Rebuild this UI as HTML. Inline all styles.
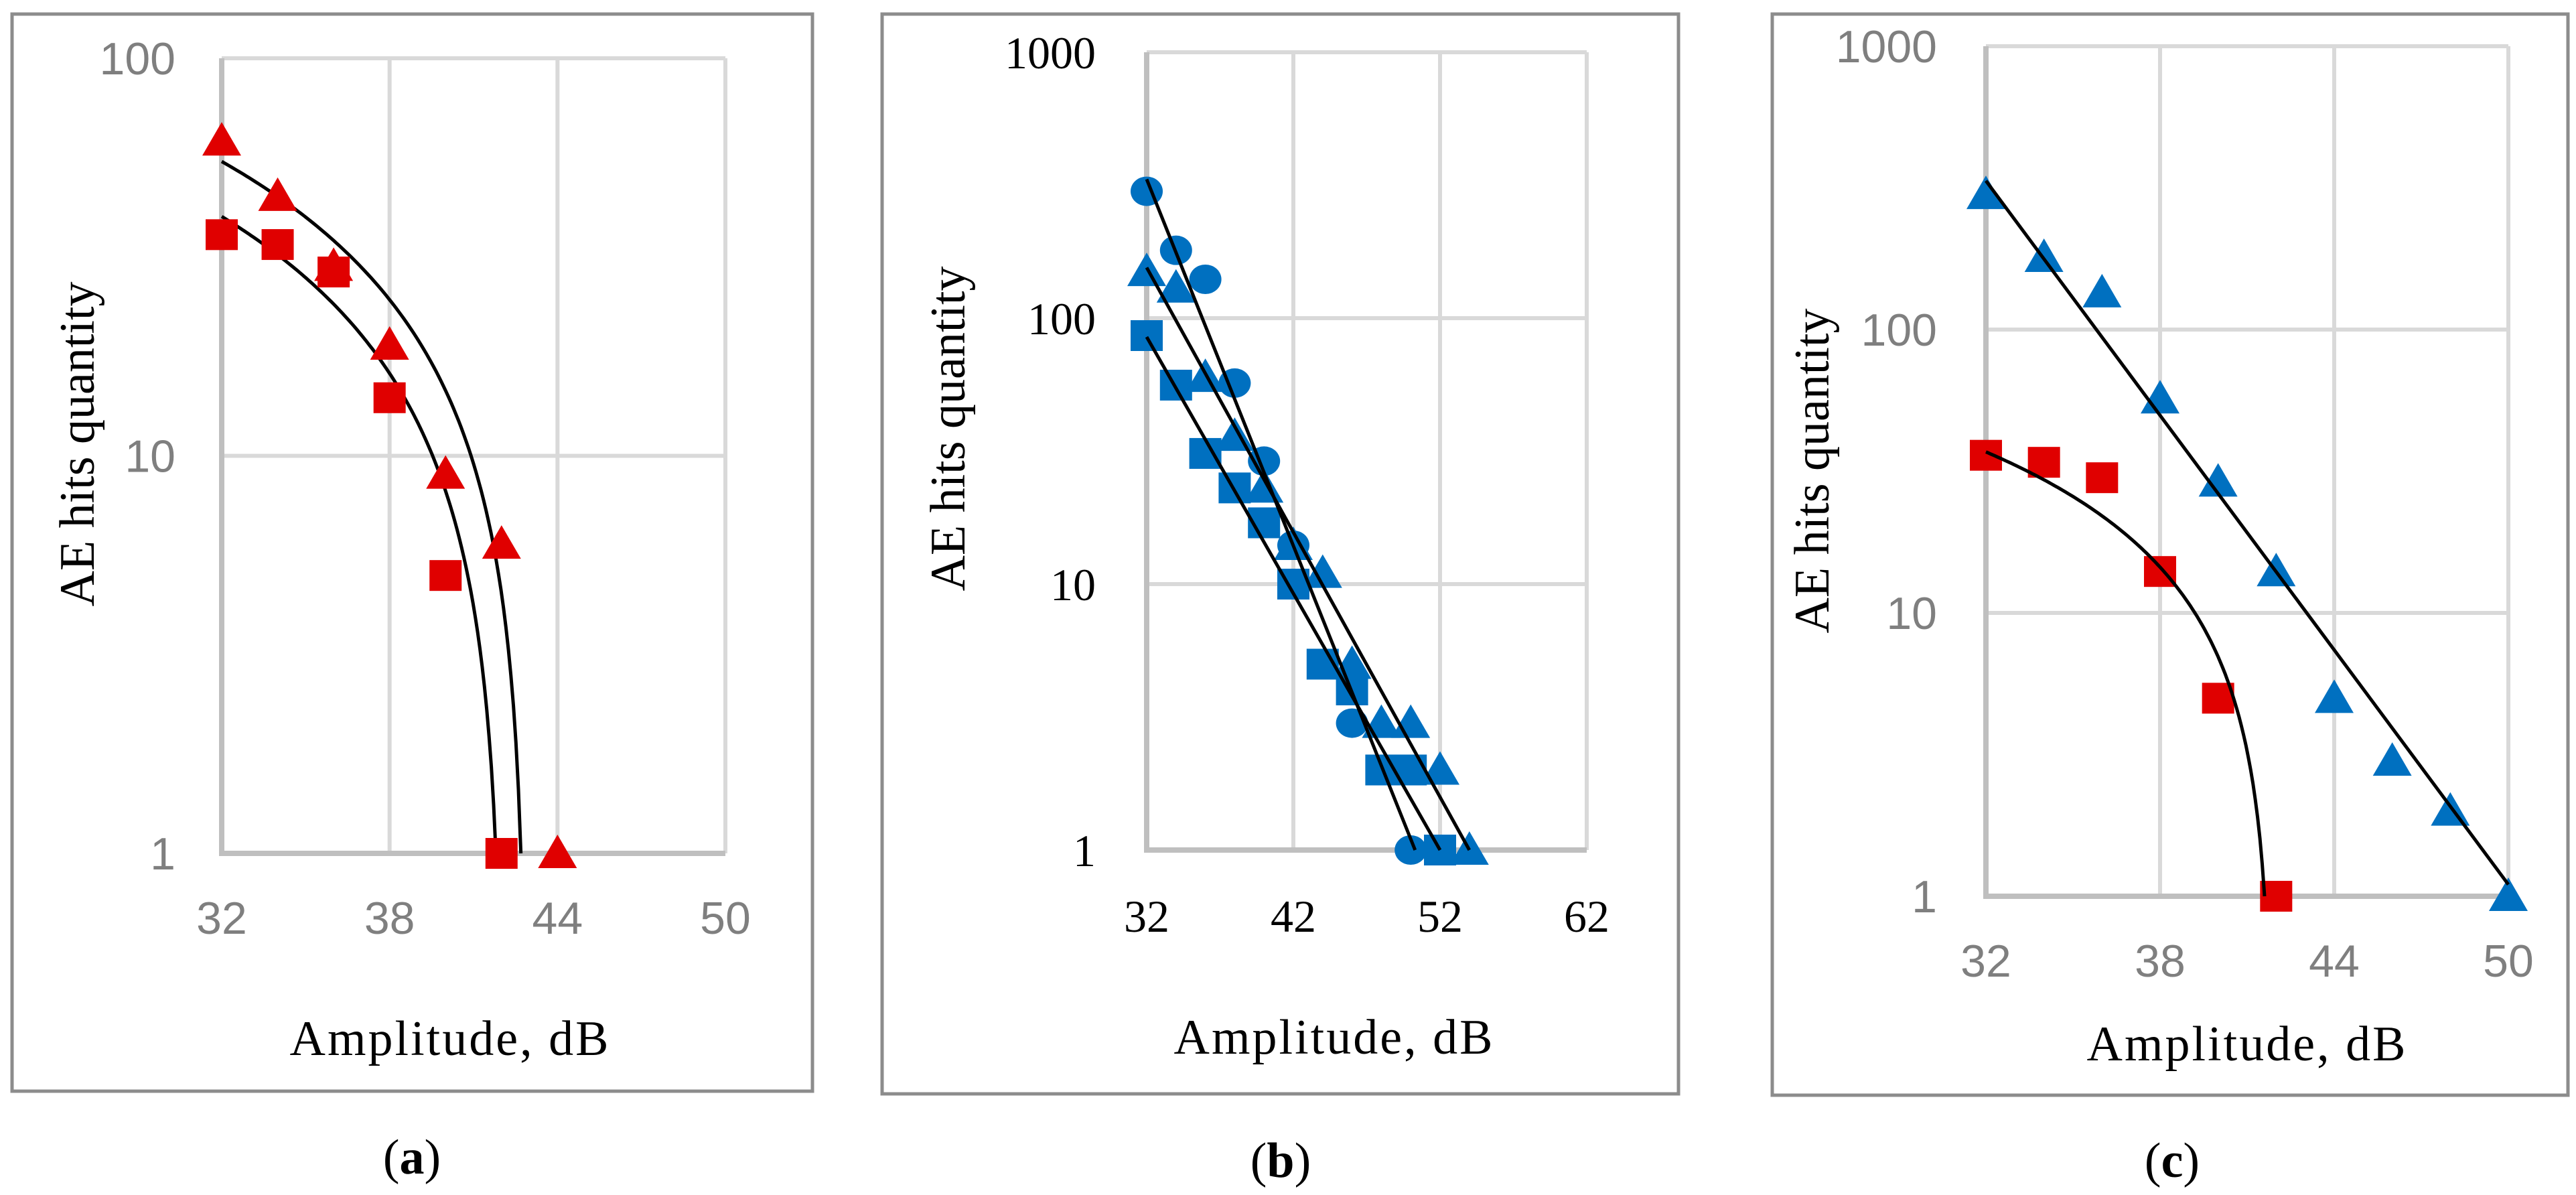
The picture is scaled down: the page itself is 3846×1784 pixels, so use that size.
<!DOCTYPE html>
<html><head><meta charset="utf-8">
<style>
html,body{margin:0;padding:0;background:#fff;}
svg{display:block;}
</style></head>
<body>
<svg id="fig" width="3846" height="1784" viewBox="0 0 3846 1784" xmlns="http://www.w3.org/2000/svg"></svg>
<script>
// ---- Panel (a) data ----
const aTriX = [32,34,36,38,40,42,44];
const aTriY = [62,45,30,19,9,6,1];
const aSqX = [32,34,36,38,40,42];
const aSqY = [36,34,29,14,5,1];
const aFitTri = [55, 5.05];   // linear fit: y = A - B*(x-32)
const aFitSq = [40, 3.98];
const aXTicks = [32,38,44,50];
const aYTicks = [1,10,100];
// ---- Panel (b) data ----
const bCirX = [32,34,36,38,40,42,46,50];
const bCirY = [300,180,140,57,29,14,3,1];
const bTriX = [32,34,36,38,40,42,44,46,48,50,52,54];
const bTriY = [150,130,60,36,23,14,11,5,3,3,2,1];
const bSqX = [32,34,36,38,40,42,44,46,48,50,52];
const bSqY = [86,56,31,23,17,10,5,4,2,2,1];
const bLineCir = [[32,333],[50.3,1]];
const bLineTri = [[32,155],[54,1]];
const bLineSq = [[32,85],[52,1]];
const bXTicks = [32,42,52,62];
const bYTicks = [1,10,100,1000];
// ---- Panel (c) data ----
const cTriX = [32,34,36,38,40,42,44,46,48,50];
const cTriY = [300,180,135,57,29,14,5,3,2,1];
const cSqX = [32,34,36,38,40,42];
const cSqY = [36,34,30,14,5,1];
const cLineTri = [[32,335],[50,1.1]];
const cFitSq = [37, 3.75];
const cXTicks = [32,38,44,50];
const cYTicks = [1,10,100,1000];

const NS = "http://www.w3.org/2000/svg";
const svg = document.getElementById('fig');
function mk(tag, attrs, parent){
  const e = document.createElementNS(NS, tag);
  for (const k in attrs) e.setAttribute(k, attrs[k]);
  (parent||svg).appendChild(e);
  return e;
}
const RED = "#e00000", BLUE = "#0070c0";

function panel(P){
  const g = mk('g', {});
  
  
  const sx = v => P.px0 + (v - P.xmin) / (P.xmax - P.xmin) * (P.px1 - P.px0);
  const sy = v => P.py0 - (Math.log10(v) - Math.log10(P.ymin)) / (Math.log10(P.ymax) - Math.log10(P.ymin)) * (P.py0 - P.py1);
  P.sx = sx; P.sy = sy;
  const box = mk('rect', {x:P.box[0], y:P.box[1], width:P.box[2]-P.box[0], height:P.box[3]-P.box[1], fill:'#fff', stroke:'#8c8c8c', 'stroke-width':5}, g);
  
  
  P.xt.forEach(t => {
    const l = mk('line', {x1:sx(t), x2:sx(t), y1:P.py0, y2:P.py1, stroke:'#d9d9d9', 'stroke-width':6}, g);
    
    
    const tx = mk('text', {x:sx(t), y:P.py0 + P.xlabOff, 'text-anchor':'middle', 'font-family':P.tickFont, 'font-size':68, fill:P.tickColor}, g);
    tx.textContent = t;
    
    
  });
  P.yt.forEach(t => {
    const l = mk('line', {x1:P.px0, x2:P.px1, y1:sy(t), y2:sy(t), stroke:'#d9d9d9', 'stroke-width':6}, g);
    
    
    const tx = mk('text', {x:P.ylabRight, y:sy(t) + 24, 'text-anchor':'end', 'font-family':P.tickFont, 'font-size':68, fill:P.tickColor}, g);
    tx.textContent = t;
    
    
  });
  const ax = mk('line', {x1:P.px0, x2:P.px0, y1:P.py0+3, y2:P.py1, stroke:'#bfbfbf', 'stroke-width':8}, g);
  
  
  const bx = mk('line', {x1:P.px0-4, x2:P.px1, y1:P.py0, y2:P.py0, stroke:'#bfbfbf', 'stroke-width':8}, g);
  
  
  const yt = mk('text', {x:0, y:0, transform:`translate(${P.ytitle[0]},${P.ytitle[1]}) rotate(-90)`, 'text-anchor':'middle', 'font-family':'"Liberation Serif", serif', 'font-size':74, fill:'#000'}, g);
  yt.textContent = 'AE hits quantity';
  
  
  const xt = mk('text', {x:P.xtitle[0], y:P.xtitle[1], 'text-anchor':'middle', 'font-family':'"Liberation Serif", serif', 'font-size':74, 'letter-spacing':3, fill:'#000'}, g);
  xt.textContent = 'Amplitude, dB';
  
  
  const cap = mk('text', {x:P.cap[0], y:P.cap[1], 'text-anchor':'middle', 'font-family':'"Liberation Serif", serif', 'font-size':74, fill:'#000'}, g);
  cap.innerHTML = '(<tspan font-weight="bold">' + P.id + '</tspan>)';
  
  
  P.g = g;
  return P;
}
function lineSeg(P, pts){
  const l = mk('line', {x1:P.sx(pts[0][0]), y1:P.sy(pts[0][1]), x2:P.sx(pts[1][0]), y2:P.sy(pts[1][1]), stroke:'#000', 'stroke-width':5}, P.g);
  
  
}
function fitCurve(P, fit){
  const A = fit[0], B = fit[1];
  const xEnd = 32 + (A - 1) / B;
  let d = '';
  const n = 120;
  for (let i = 0; i <= n; i++){
    const x = 32 + (xEnd - 32) * i / n;
    const y = Math.max(1, A - B * (x - 32));
    d += (i ? 'L' : 'M') + P.sx(x).toFixed(1) + ',' + P.sy(y).toFixed(1);
  }
  const p = mk('path', {d:d, fill:'none', stroke:'#000', 'stroke-width':5}, P.g);
  
  
}
function markers(P, xs, ys, shape, color, name){
  xs.forEach((x, i) => {
    const cx = P.sx(x), cy = P.sy(ys[i]);
    let e;
    if (shape === 'sq') e = mk('rect', {x:cx-24, y:cy-23, width:48, height:46, fill:color}, P.g);
    else if (shape === 'tri') e = mk('polygon', {points:`${cx},${cy-28} ${cx+29},${cy+22} ${cx-29},${cy+22}`, fill:color}, P.g);
    else e = mk('ellipse', {cx:cx, cy:cy, rx:24, ry:22, fill:color}, P.g);
    
    
  });
}

const A = panel({id:'a', box:[18,21,1213,1629], px0:331, px1:1083, py0:1274, py1:87, xmin:32, xmax:50, ymin:1, ymax:100,
  xt:aXTicks, yt:aYTicks, tickFont:'"Liberation Sans", sans-serif', tickColor:'#7f7f7f', ylabRight:262, xlabOff:120,
  ytitle:[140,663], xtitle:[672,1575], cap:[615,1752]});
fitCurve(A, aFitTri); fitCurve(A, aFitSq);
markers(A, aSqX, aSqY, 'sq', RED, 'square-point');
markers(A, aTriX, aTriY, 'tri', RED, 'triangle-point');

const B = panel({id:'b', box:[1317,21,2506,1633], px0:1712, px1:2369, py0:1269, py1:78, xmin:32, xmax:62, ymin:1, ymax:1000,
  xt:bXTicks, yt:bYTicks, tickFont:'"Liberation Serif", serif', tickColor:'#000', ylabRight:1636, xlabOff:122,
  ytitle:[1440,640], xtitle:[1992,1573], cap:[1912,1757]});
markers(B, bSqX, bSqY, 'sq', BLUE, 'square-point');
markers(B, bTriX, bTriY, 'tri', BLUE, 'triangle-point');
markers(B, bCirX, bCirY, 'cir', BLUE, 'circle-point');
lineSeg(B, bLineCir); lineSeg(B, bLineTri); lineSeg(B, bLineSq);

const C = panel({id:'c', box:[2646,21,3834,1635], px0:2965, px1:3745, py0:1338, py1:69, xmin:32, xmax:50, ymin:1, ymax:1000,
  xt:cXTicks, yt:cYTicks, tickFont:'"Liberation Sans", sans-serif', tickColor:'#7f7f7f', ylabRight:2892, xlabOff:120,
  ytitle:[2730,703], xtitle:[3355,1583], cap:[3243,1757]});
markers(C, cTriX, cTriY, 'tri', BLUE, 'triangle-point');
markers(C, cSqX, cSqY, 'sq', RED, 'square-point');
lineSeg(C, cLineTri); fitCurve(C, cFitSq);
</script>
</body></html>
